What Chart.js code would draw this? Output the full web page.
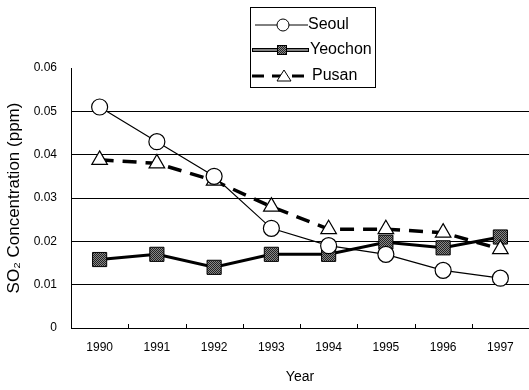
<!DOCTYPE html>
<html>
<head>
<meta charset="utf-8">
<script src="https://cdn.jsdelivr.net/npm/chart.js@4/dist/chart.umd.min.js"></script>
<style>
html,body{margin:0;padding:0;background:#fff;}
#wrap{width:529px;height:390px;}
</style>
</head>
<body>
<div id="wrap"><canvas id="c" width="529" height="390"></canvas></div>
<script>
const years = ['1990','1991','1992','1993','1994','1995','1996','1997'];
const seoul = [0.051, 0.043, 0.035, 0.023, 0.019, 0.017, 0.0133, 0.0115];
const yeochon = [0.0158, 0.017, 0.014, 0.017, 0.017, 0.0198, 0.0185, 0.021];
const pusan = [0.0388, 0.038, 0.034, 0.028, 0.0228, 0.0228, 0.022, 0.0182];
const yTicks = [0, 0.01, 0.02, 0.03, 0.04, 0.05, 0.06];

// dotted gray pattern for squares
const pc = document.createElement('canvas');
pc.width = 2; pc.height = 2;
const pctx = pc.getContext('2d');
pctx.fillStyle = '#888'; pctx.fillRect(0,0,2,2);
pctx.fillStyle = '#222'; pctx.fillRect(0,0,1,1); pctx.fillRect(1,1,1,1);
const ctx0 = document.getElementById('c').getContext('2d');
const pattern = ctx0.createPattern(pc, 'repeat');

const FONT = "'Liberation Sans', Arial, sans-serif";

const legendPlugin = {
  id: 'customLegend',
  afterDraw(chart) {
    const ctx = chart.ctx;
    ctx.save();
    ctx.fillStyle = '#fff';
    ctx.fillRect(250.5, 7.5, 125, 80);
    ctx.strokeStyle = '#000';
    ctx.lineWidth = 1;
    ctx.strokeRect(250.5, 7.5, 125, 80);
    const ys = [25, 50, 76];
    const ds = chart.data.datasets;
    ctx.font = '16px ' + FONT;
    ctx.textBaseline = 'middle';
    ctx.textAlign = 'left';
    // Seoul
    ctx.beginPath(); ctx.moveTo(255, ys[0]); ctx.lineTo(308, ys[0]);
    ctx.lineWidth = 1; ctx.setLineDash([]); ctx.stroke();
    ctx.beginPath(); ctx.arc(283, ys[0], 6, 0, Math.PI*2);
    ctx.fillStyle = '#fff'; ctx.fill(); ctx.stroke();
    ctx.fillStyle = '#000'; ctx.fillText(ds[0].label, 308, ys[0]);
    // Yeochon
    ctx.beginPath(); ctx.moveTo(252, ys[1]); ctx.lineTo(309, ys[1]);
    ctx.lineWidth = 4; ctx.strokeStyle = '#000'; ctx.stroke();
    ctx.beginPath(); ctx.moveTo(253, ys[1]); ctx.lineTo(308, ys[1]);
    ctx.lineWidth = 1.2; ctx.strokeStyle = '#fff'; ctx.stroke();
    ctx.fillStyle = pattern; ctx.fillRect(277, ys[1]-5, 10, 10);
    ctx.strokeStyle = '#000'; ctx.lineWidth = 1; ctx.strokeRect(277.5, ys[1]-4.5, 9, 9);
    ctx.fillStyle = '#000'; ctx.fillText(ds[1].label, 310, ys[1]);
    // Pusan
    ctx.beginPath(); ctx.moveTo(252, ys[2]); ctx.lineTo(307, ys[2]);
    ctx.lineWidth = 3; ctx.setLineDash([12, 8]); ctx.strokeStyle = '#000'; ctx.stroke();
    ctx.setLineDash([]);
    ctx.beginPath(); ctx.moveTo(284, ys[2]-6); ctx.lineTo(291, ys[2]+5); ctx.lineTo(277, ys[2]+5); ctx.closePath();
    ctx.fillStyle = '#fff'; ctx.fill(); ctx.lineWidth = 1; ctx.stroke();
    ctx.fillStyle = '#000'; ctx.fillText(ds[2].label, 312, ys[2]);
    ctx.restore();
  }
};

const xTickPlugin = {
  id: 'xTicks',
  afterDatasetsDraw(chart) {
    const ctx = chart.ctx;
    const xs = chart.scales.x;
    const bottom = chart.chartArea.bottom;
    ctx.save();
    ctx.strokeStyle = '#000';
    ctx.lineWidth = 1;
    for (let i = 1; i < years.length; i++) {
      const p = Math.round((xs.getPixelForValue(i-1) + xs.getPixelForValue(i)) / 2) + 0.5;
      ctx.beginPath(); ctx.moveTo(p, bottom); ctx.lineTo(p, bottom - 4); ctx.stroke();
    }
    ctx.restore();
  }
};

new Chart(document.getElementById('c'), {
  type: 'line',
  data: {
    labels: years,
    datasets: [
      {
        label: 'Seoul', data: seoul,
        borderColor: '#000', borderWidth: 1.2,
        pointStyle: 'circle', pointRadius: 8, pointBackgroundColor: '#fff',
        pointBorderColor: '#000', pointBorderWidth: 1.2, tension: 0, order: 1
      },
      {
        label: 'Yeochon', data: yeochon,
        borderColor: '#000', borderWidth: 3,
        pointStyle: 'rect', pointRadius: 10, pointBackgroundColor: pattern,
        pointBorderColor: '#000', pointBorderWidth: 1, tension: 0, order: 3
      },
      {
        label: 'Pusan', data: pusan,
        borderColor: '#000', borderWidth: 3.5, borderDash: [14, 9],
        pointStyle: 'triangle', pointRadius: 9, pointBackgroundColor: '#fff',
        pointBorderColor: '#000', pointBorderWidth: 1.2, tension: 0, order: 2
      }
    ]
  },
  options: {
    responsive: false,
    animation: false,
    devicePixelRatio: 1,
    layout: { autoPadding: false, padding: { top: 68, right: 0, left: 0, bottom: 0 } },
    plugins: { legend: { display: false }, tooltip: { enabled: false } },
    scales: {
      x: {
        type: 'category',
        offset: true,
        grid: { display: false, drawTicks: false },
        border: { display: true, color: '#000', width: 1 },
        ticks: { color: '#000', font: { family: FONT, size: 12 }, padding: 12, maxRotation: 0, autoSkip: false },
        title: { display: true, text: 'Year', color: '#000', font: { family: FONT, size: 14 }, padding: { top: 8 } },
        afterFit(s) { s.height = 62; }
      },
      y: {
        min: 0, max: 0.06,
        afterBuildTicks(s) { s.ticks = yTicks.map(v => ({ value: v })); },
        grid: {
          drawTicks: false,
          color: (c) => (c.tick && (c.tick.value === 0.06 || c.tick.value === 0)) ? 'rgba(0,0,0,0)' : '#000',
          lineWidth: 1
        },
        border: { display: true, color: '#000', width: 1 },
        ticks: {
          color: '#000', font: { family: FONT, size: 12 }, padding: 14,
          callback: (v) => v === 0 ? '0' : Number(v).toFixed(2)
        },
        title: { display: true, text: 'SO\u2082 Concentration (ppm)', color: '#000', font: { family: FONT, size: 17 }, padding: { bottom: 2 } },
        afterFit(s) { s.width = 71; }
      }
    }
  },
  plugins: [xTickPlugin, legendPlugin]
});
</script>
</body>
</html>
